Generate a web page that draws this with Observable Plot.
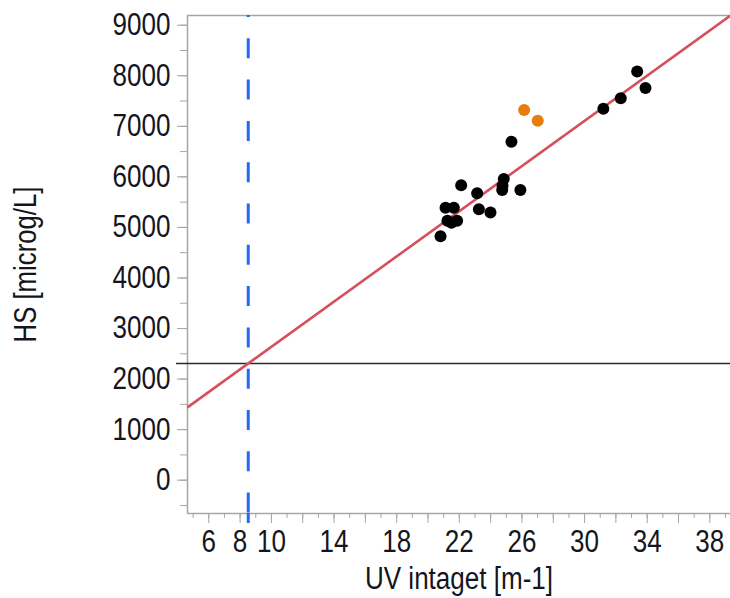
<!DOCTYPE html>
<html>
<head>
<meta charset="utf-8">
<script src="https://cdn.jsdelivr.net/npm/d3@7"></script>
<script src="https://cdn.jsdelivr.net/npm/@observablehq/plot@0.6"></script>
<style>
  html, body { margin: 0; padding: 0; background: #fff; }
  #chart { width: 730px; height: 598px; }
</style>
</head>
<body>
<div id="chart"></div>
<script>
// Samples: UV absorbance (m-1) against HS concentration (microg/L)
const uvBlack = [20.80, 21.12, 21.65, 21.24, 21.86, 21.50, 22.12, 23.14, 23.25, 23.99, 24.84, 24.76, 24.74, 25.90, 25.33, 31.20, 32.31, 33.36, 33.89];
const hsBlack = [4827, 5387, 5387, 5130, 5130, 5090, 5833, 5678, 5361, 5293, 5956, 5823, 5738, 5738, 6695, 7349, 7554, 8083, 7760];
const uvOrange = [26.14, 27.01];
const hsOrange = [7324, 7111];

// Calibration line: HS = intercept + slope * UV
const fitIntercept = 404;
const fitSlope = 223.5;

// Reference lines
const refUV = 8.52;
const refHS = 2308;

// Axes
const xDomain = [4.64, 39.32];
const yDomain = [-659, 9192];
const xTickLabels = [6, 8, 10, 14, 18, 22, 26, 30, 34, 38];
const xMajorTicks = [6, 8, 10, 12, 14, 16, 18, 20, 22, 24, 26, 28, 30, 32, 34, 36, 38];
const xMinorTicks = d3.range(5, 40, 1);
const yTickLabels = [0, 1000, 2000, 3000, 4000, 5000, 6000, 7000, 8000, 9000];
const yMinorTicks = d3.range(-500, 9001, 500);
const xLabel = "UV intaget [m-1]";
const yLabel = "HS [microg/L]";

const FONT = '"Liberation Sans", Arial, sans-serif';
const AXIS_GRAY = "#a6a6a6";
const TEXT = "#151520";

const black = uvBlack.map((uv, i) => ({uv, hs: hsBlack[i]}));
const orange = uvOrange.map((uv, i) => ({uv, hs: hsOrange[i]}));
const fit = [{
  x1: xDomain[0], y1: fitIntercept + fitSlope * xDomain[0],
  x2: xDomain[1], y2: fitIntercept + fitSlope * xDomain[1]
}];

const chart = Plot.plot({
  width: 730,
  height: 598,
  marginLeft: 187,
  marginRight: 0,
  marginTop: 15,
  marginBottom: 85,
  style: {fontFamily: FONT, background: "#fff", overflow: "visible"},
  x: {domain: xDomain},
  y: {domain: yDomain},
  marks: [
    // tick marks
    Plot.axisX(xMinorTicks, {tickSize: 5, tickFormat: () => "", stroke: AXIS_GRAY, label: null}),
    Plot.axisX(xMajorTicks, {tickSize: 10, tickFormat: () => "", stroke: AXIS_GRAY, label: null}),
    Plot.axisY(yMinorTicks, {tickSize: 7, tickFormat: () => "", stroke: AXIS_GRAY, label: null}),
    Plot.axisY(yTickLabels, {tickSize: 10, tickFormat: () => "", stroke: AXIS_GRAY, label: null}),
    // frame: left, top, bottom
    Plot.ruleX([xDomain[0]], {stroke: AXIS_GRAY, strokeWidth: 1.5}),
    Plot.ruleY([yDomain[0]], {stroke: AXIS_GRAY, strokeWidth: 1.5}),
    Plot.ruleY([yDomain[1]], {stroke: AXIS_GRAY, strokeWidth: 1.5}),
    // tick labels
    Plot.text(xTickLabels, {x: d => d, text: d => String(d), frameAnchor: "bottom", dy: 38, fontSize: 31, fill: TEXT, fontFamily: FONT}),
    Plot.text(yTickLabels, {y: d => d, text: d => String(d), frameAnchor: "left", dx: -17, textAnchor: "end", fontSize: 31, fill: TEXT, fontFamily: FONT}),
    // axis titles
    Plot.text([xLabel], {text: d => d, frameAnchor: "bottom", dy: 75, fontSize: 31, fill: TEXT, fontFamily: FONT}),
    Plot.text([yLabel], {text: d => d, frameAnchor: "left", textAnchor: "middle", dx: -161, rotate: -90, fontSize: 31, fill: TEXT, fontFamily: FONT}),
    // horizontal reference
    Plot.ruleY([refHS], {stroke: "#2a2a2a", strokeWidth: 1.6, insetLeft: -11}),
    // vertical dashed reference
    Plot.ruleX([refUV], {stroke: "#2668f0", strokeWidth: 3, strokeDasharray: "20,21.3", strokeDashoffset: 18}),
    Plot.axisX([refUV], {tickSize: 10, tickFormat: () => "", stroke: "#2668f0", strokeWidth: 3, label: null}),
    // calibration line
    Plot.link(fit, {x1: "x1", y1: "y1", x2: "x2", y2: "y2", stroke: "#d6505c", strokeWidth: 2.6, clip: true}),
    // samples
    Plot.dot(black, {x: "uv", y: "hs", r: 6, fill: "#000", stroke: null}),
    Plot.dot(orange, {x: "uv", y: "hs", r: 6, fill: "#e67e0e", stroke: null})
  ]
});

document.getElementById("chart").appendChild(chart);

// Narrow the lettering horizontally (condensed face look)
for (const t of chart.querySelectorAll("text")) {
  const s = t.textContent;
  if (!s) continue;
  const w = t.getComputedTextLength();
  if (!(w > 0)) continue;
  const k = s === yLabel ? 0.83 : 0.84;
  t.setAttribute("textLength", (w * k).toFixed(2));
  t.setAttribute("lengthAdjust", "spacingAndGlyphs");
}
</script>
</body>
</html>
